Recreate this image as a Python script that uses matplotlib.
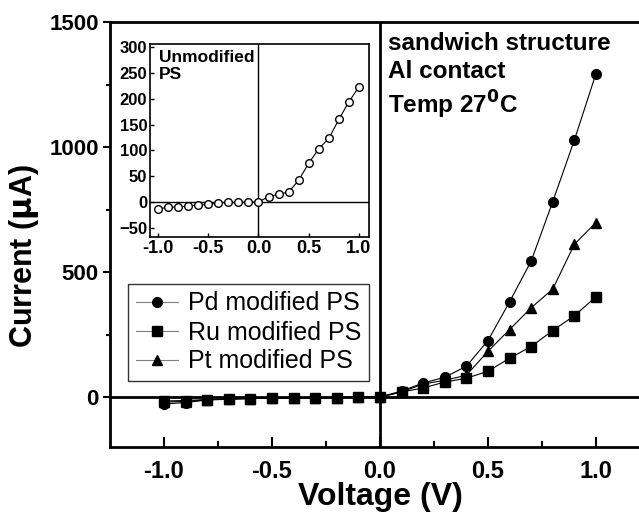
import numpy as np
import matplotlib.pyplot as plt

plt.rcParams['font.family'] = ['Liberation Sans', 'DejaVu Sans']

# Voltage sweep (V)
voltage = [-1.0, -0.9, -0.8, -0.7, -0.6, -0.5, -0.4, -0.3, -0.2, -0.1, 0.0,
           0.1, 0.2, 0.3, 0.4, 0.5, 0.6, 0.7, 0.8, 0.9, 1.0]

# Current (uA)
pd_current = [-28, -22, -12, -9, -6, -5, -4, -3, -2, -1, 0,
              24, 56, 79, 123, 226, 381, 544, 782, 1028, 1294]
ru_current = [-16, -14, -10, -8, -6, -5, -4, -3, -2, -1, 0,
              20, 36, 60, 75, 103, 155, 202, 266, 325, 401]
pt_current = [-20, -18, -11, -8, -6, -5, -4, -3, -2, -1, 0,
              20, 52, 67, 87, 183, 270, 357, 432, 611, 698]
unmod_current = [-14, -10, -10, -8, -6, -5, -2, -1, -1, 0, 0,
                 10, 15, 19, 42, 75, 103, 123, 160, 194, 223]

labels = ['Pd modified PS', 'Ru modified PS', 'Pt modified PS']

fig = plt.figure(figsize=(6.39, 5.16), dpi=100)
ax = fig.add_axes([110 / 639, 1 - 447 / 516, 540 / 639, 425 / 516])

ax.axhline(0, color='black', lw=2, zorder=1)
ax.axvline(0, color='black', lw=2, zorder=1)

mk = dict(color='black', lw=0.8, ms=7)
ax.plot(voltage, pd_current, marker='o', label=labels[0], **mk)
ax.plot(voltage, ru_current, marker='s', label=labels[1], **mk)
ax.plot(voltage, pt_current, marker='^', label=labels[2], **mk)

ax.set_xlim(-1.25, 1.25)
ax.set_ylim(-200, 1500)
ax.set_xticks([-1.0, -0.5, 0.0, 0.5, 1.0])
ax.set_xticks([-0.75, -0.25, 0.25, 0.75], minor=True)
ax.set_yticks([0, 500, 1000, 1500])
ax.set_yticks([250, 750, 1250], minor=True)
ax.set_xticklabels(['-1.0', '-0.5', '0.0', '0.5', '1.0'])
ax.tick_params(axis='x', which='major', direction='in', length=7, width=1.5, pad=9)
ax.tick_params(axis='x', which='minor', direction='in', length=4, width=1.5)
ax.tick_params(axis='y', which='major', direction='out', length=5, width=1.5, pad=3)
ax.tick_params(axis='y', which='minor', direction='out', length=3, width=1.5)
for lab in ax.get_xticklabels():
    lab.set_fontsize(17)
    lab.set_fontweight('bold')
for lab in ax.get_yticklabels():
    lab.set_fontsize(16)
    lab.set_fontweight('bold')
for s in ax.spines.values():
    s.set_linewidth(2)

ax.set_xlabel('Voltage (V)', fontsize=23, fontweight='bold', labelpad=0)
ax.set_ylabel('Current ($\\mathbf{\\mu}$A)', fontsize=22, fontweight='bold')
ax.yaxis.set_label_coords(-0.128, 0.45)

ax.text(388 / 639, 1 - 32 / 516, 'sandwich structure\nAl contact\nTemp 27$^{\\mathbf{0}}$C',
        transform=fig.transFigure, fontsize=17.5, fontweight='bold', va='top',
        linespacing=1.25)

leg = ax.legend(loc='upper left', bbox_to_anchor=(128 / 639, 1 - 284 / 516),
                bbox_transform=fig.transFigure, fontsize=18, frameon=True,
                fancybox=False, edgecolor='black', handlelength=1.7,
                handletextpad=0.4, borderpad=0.3, labelspacing=0.2,
                borderaxespad=0)
leg.get_frame().set_linewidth(1)
for h in leg.get_lines():
    h.set_color('gray')
    h.set_markerfacecolor('black')
    h.set_markeredgecolor('black')

# inset: unmodified PS
ins = fig.add_axes([150 / 639, 1 - 237 / 516, 219 / 639, 193 / 516])
ins.axhline(0, color='black', lw=1)
ins.axvline(0, color='black', lw=1)
ins.plot(voltage, unmod_current, marker='o', color='black', lw=0.8, ms=5.5,
         mfc='white', mec='black')
ins.set_xlim(-1.08, 1.1)
ins.set_ylim(-68, 306)
ins.set_xticks([-1.0, -0.5, 0.0, 0.5, 1.0])
ins.set_xticklabels(['-1.0', '-0.5', '0.0', '0.5', '1.0'])
ins.set_yticks([-50, 0, 50, 100, 150, 200, 250, 300])
ins.set_yticks(np.arange(-75, 300, 25)[1::2], minor=True)
ins.tick_params(direction='in', length=3, width=1, pad=2)
ins.tick_params(which='minor', direction='in', length=2, width=1)
for lab in ins.get_xticklabels():
    lab.set_fontsize(13)
    lab.set_fontweight('bold')
for lab in ins.get_yticklabels():
    lab.set_fontsize(12)
    lab.set_fontweight('bold')
for s in ins.spines.values():
    s.set_linewidth(1.2)
ins.text(0.04, 0.97, 'Unmodified\nPS', transform=ins.transAxes, fontsize=12.5,
         fontweight='bold', va='top')

fig.savefig('out.png', dpi=100)
